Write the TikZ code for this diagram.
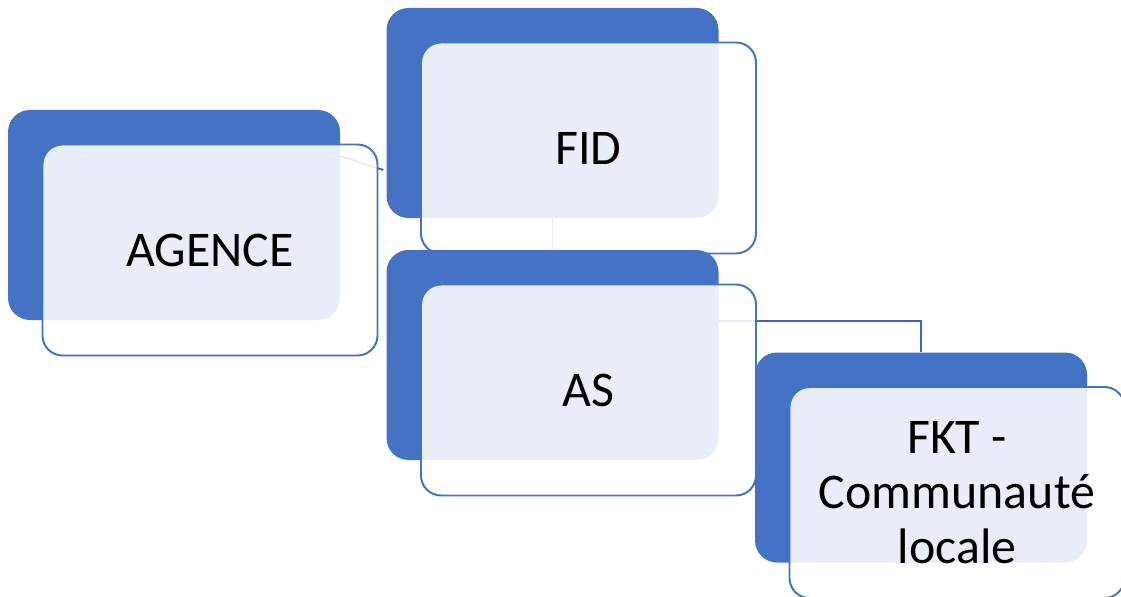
\documentclass[tikz,border=0pt]{standalone}
\usepackage{fontspec}
\setmainfont{Carlito}
\usepackage{tikz}
\usetikzlibrary{positioning,backgrounds}
\definecolor{boxblue}{HTML}{4472C4}
\definecolor{lineblue}{HTML}{3F66B0}
\tikzset{
  backbox/.style={fill=boxblue, rounded corners=0.55cm, minimum width=8.3cm, minimum height=5.25cm, inner sep=0pt},
  frontbox/.style={draw=boxblue, line width=1.4pt, fill=white, fill opacity=0.88, text opacity=1,
    rounded corners=0.5cm, minimum width=8.375cm, minimum height=5.275cm, inner sep=0pt,
    align=center, font=\fontsize{35.5pt}{39pt}\selectfont, xshift=0.9cm, yshift=-0.875cm},
  conn/.style={draw=lineblue, line width=1.3pt}
}

\begin{document}
\begin{tikzpicture}
      \useasboundingbox (0, 0) rectangle (28.025, -14.925);
      % boxes
      \node[backbox] (agence) at (4.35, -5.375) {};
      \node[frontbox] (agencet) at (agence) {AGENCE};
      \node[backbox] (fid) at (13.8125, -2.825) {};
      \node[frontbox] (fidt) at (fid) {FID};
      \node[backbox] (as) at (13.8125, -8.875) {};
      \node[frontbox] (ast) at (as) {AS};
      \node[backbox] (fkt) at (23.025, -11.4375) {};
      \node[frontbox] (fktt) at (fkt) {FKT -\\Communauté\\locale};
      % connectors, behind the boxes
      \begin{scope}[on background layer]
        \coordinate (fidin) at ([xshift=-0.075cm, yshift=-1.425cm]fid.west);
        \draw[conn] ([yshift=1.475cm]agence.east) -- (fidin);
        \draw[conn] (fid.south) -- (as.north);
        \draw[conn] ([yshift=0.85cm]as.east) -| (fkt.north);
      \end{scope}
\end{tikzpicture}
\end{document}
